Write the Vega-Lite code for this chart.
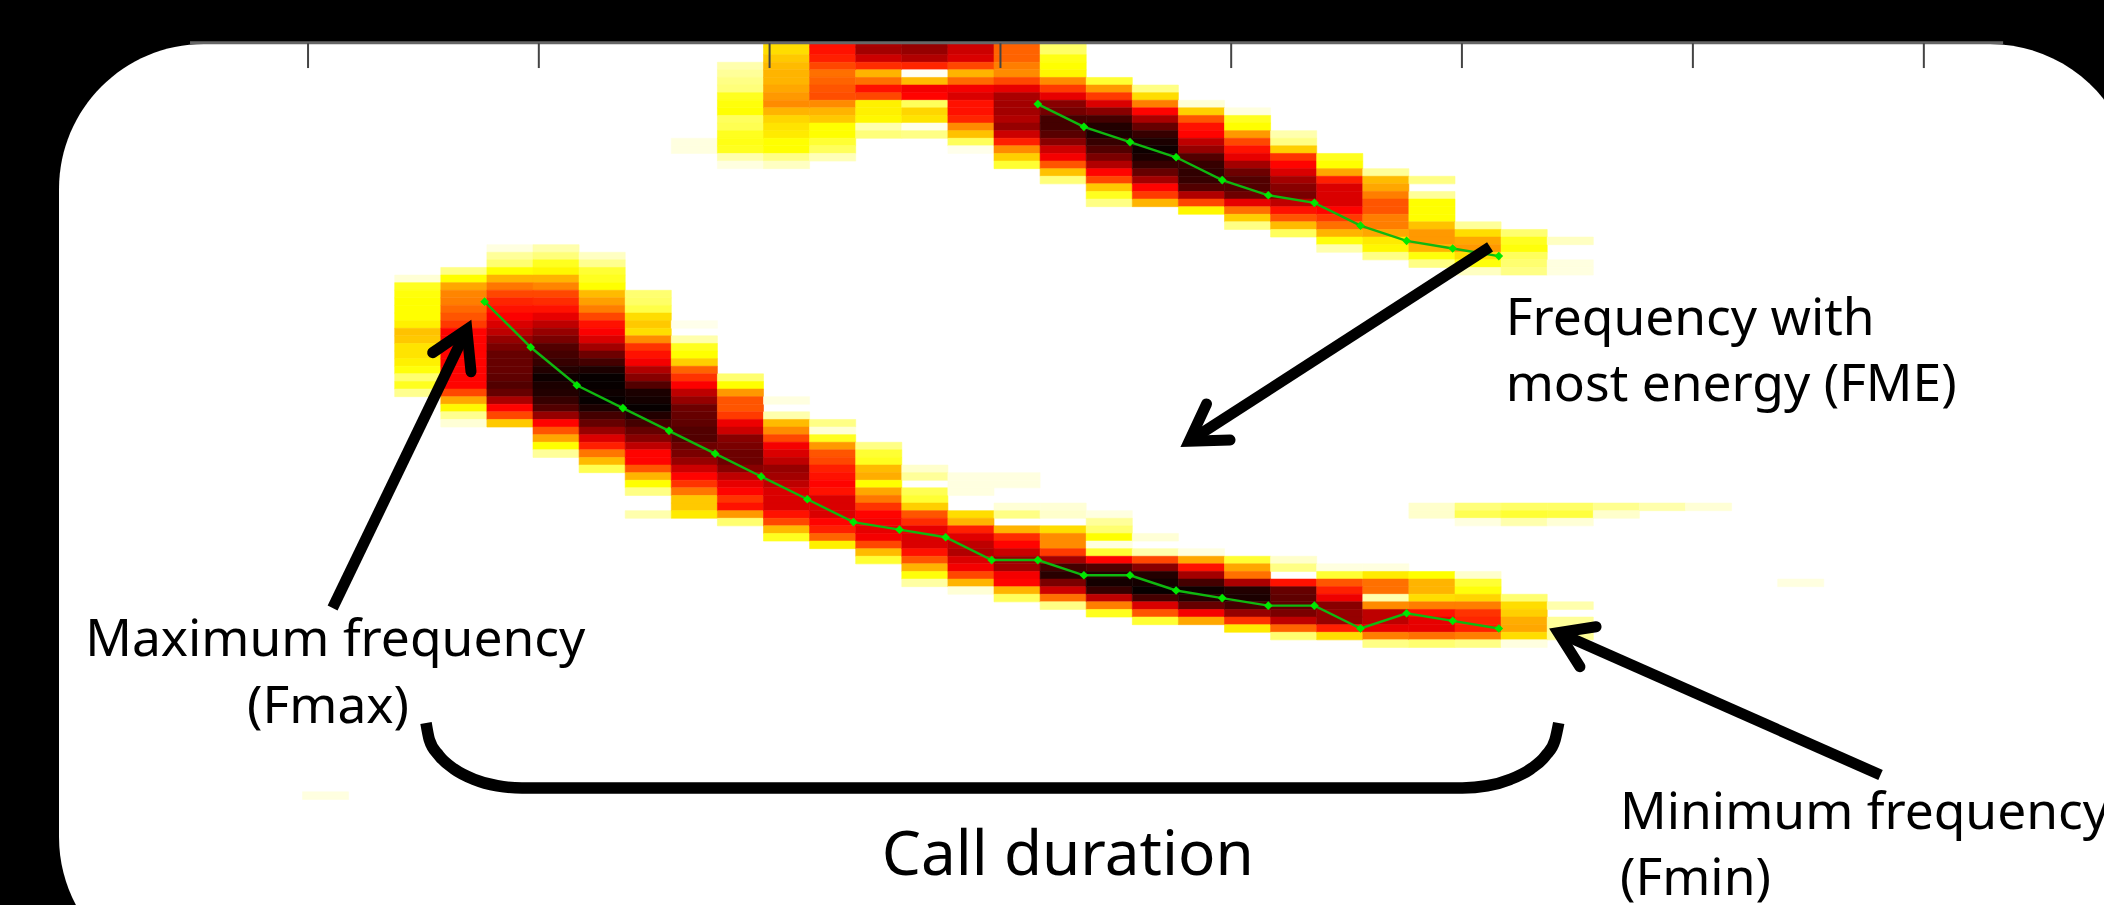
{"$schema":"https://vega.github.io/schema/vega-lite/v6.json","width":2104,"height":905,"autosize":{"type":"none"},"padding":0,"background":"#000000","view":{"stroke":null},
"datasets":{
"panel":[{"t":-7.782,"t2":37.25,"f":79.9,"f2":-43.52}],
"band":[{"t":-9.062,"t2":36.578,"f":85.693,"f2":80.17}],
"axisline":[{"t":-4.94,"t2":34.39,"f":80.07}],
"ticks":[{"t":-2.38,"f":80,"f2":76.74},{"t":2.626,"f":80,"f2":76.74},{"t":7.632,"f":80,"f2":76.74},{"t":12.64,"f":80,"f2":76.74},{"t":17.645,"f":80,"f2":76.74},{"t":22.65,"f":80,"f2":76.74},{"t":27.66,"f":80,"f2":76.74},{"t":32.67,"f":80,"f2":76.74}],
"fme":[{"c":"a","t":1.45,"f":46},{"c":"a","t":2.45,"f":40},{"c":"a","t":3.45,"f":35},{"c":"a","t":4.45,"f":32},{"c":"a","t":5.45,"f":29},{"c":"a","t":6.45,"f":26},{"c":"a","t":7.45,"f":23},{"c":"a","t":8.45,"f":20},{"c":"a","t":9.45,"f":17},{"c":"a","t":10.45,"f":16},{"c":"a","t":11.45,"f":15},{"c":"a","t":12.45,"f":12},{"c":"a","t":13.45,"f":12},{"c":"a","t":14.45,"f":10},{"c":"a","t":15.45,"f":10},{"c":"a","t":16.45,"f":8},{"c":"a","t":17.45,"f":7},{"c":"a","t":18.45,"f":6},{"c":"a","t":19.45,"f":6},{"c":"a","t":20.45,"f":3},{"c":"a","t":21.45,"f":5},{"c":"a","t":22.45,"f":4},{"c":"a","t":23.45,"f":3},
{"c":"b","t":13.45,"f":72},{"c":"b","t":14.45,"f":69},{"c":"b","t":15.45,"f":67},{"c":"b","t":16.45,"f":65},{"c":"b","t":17.45,"f":62},{"c":"b","t":18.45,"f":60},{"c":"b","t":19.45,"f":59},{"c":"b","t":20.45,"f":56},{"c":"b","t":21.45,"f":54},{"c":"b","t":22.45,"f":53},{"c":"b","t":23.45,"f":52}],
"shafts":[{"id":"max","t":-1.847,"f":5.693},{"id":"max","t":1.064,"f":42.33},{"id":"fme","t":23.26,"f":53.2},{"id":"fme","t":16.734,"f":27.64},{"id":"min","t":31.73,"f":-16.28},{"id":"min","t":24.74,"f":2.46}],
"heads":[{"id":"max","i":0,"t":0.324,"f":39.29},{"id":"max","i":1,"t":1.064,"f":42.33},{"id":"max","i":2,"t":1.155,"f":36.79},{"id":"fme","i":0,"t":17.11,"f":32.54},{"id":"fme","i":1,"t":16.734,"f":27.64},{"id":"fme","i":2,"t":17.62,"f":27.8},{"id":"min","i":0,"t":25.56,"f":3.23},{"id":"min","i":1,"t":24.74,"f":2.46},{"id":"min","i":2,"t":25.21,"f":-2.03}],
"bracket":[{"t":0.179,"f":-9.44},{"t":0.251,"f":-11.65},{"t":0.459,"f":-13.71},{"t":0.788,"f":-15.49},{"t":1.22,"f":-16.85},{"t":1.723,"f":-17.7},{"t":2.261,"f":-17.99},{"t":22.66,"f":-17.99},{"t":23.2,"f":-17.7},{"t":23.7,"f":-16.85},{"t":24.14,"f":-15.49},{"t":24.47,"f":-13.71},{"t":24.67,"f":-11.65},{"t":24.75,"f":-9.44}],
"labelsCenter":[{"label":"Maximum frequency","t":-1.79,"f":-0.58},{"label":"(Fmax)","t":-1.947,"f":-9.4}],
"labelsLeft":[{"label":"Frequency with","t":23.6,"f":41.55},{"label":"most energy (FME)","t":23.6,"f":32.92},{"label":"Minimum frequency","t":26.08,"f":-23.39},{"label":"(Fmin)","t":26.08,"f":-32.07}],
"labelCall":[{"label":"Call duration","t":14.1,"f":-29.44}],
"cells":[
{"t":-2,"f":-19,"v":3},{"t":30,"f":9,"v":3},
{"t":0,"f":49,"v":4},{"t":0,"f":48,"v":22},{"t":0,"f":47,"v":24},{"t":0,"f":46,"v":25},{"t":0,"f":45,"v":25},{"t":0,"f":44,"v":25},{"t":0,"f":43,"v":27},{"t":0,"f":42,"v":34},{"t":0,"f":41,"v":33},{"t":0,"f":40,"v":29},{"t":0,"f":39,"v":29},{"t":0,"f":38,"v":27},{"t":0,"f":37,"v":24},{"t":0,"f":36,"v":14},{"t":0,"f":35,"v":22},{"t":0,"f":34,"v":11},
{"t":1,"f":50,"v":12},{"t":1,"f":49,"v":25},{"t":1,"f":48,"v":38},{"t":1,"f":47,"v":43},{"t":1,"f":46,"v":44},{"t":1,"f":45,"v":47},{"t":1,"f":44,"v":50},{"t":1,"f":43,"v":54},{"t":1,"f":42,"v":62},{"t":1,"f":41,"v":62},{"t":1,"f":40,"v":62},{"t":1,"f":39,"v":62},{"t":1,"f":38,"v":62},{"t":1,"f":37,"v":62},{"t":1,"f":36,"v":62},{"t":1,"f":35,"v":62},{"t":1,"f":34,"v":52},{"t":1,"f":33,"v":38},{"t":1,"f":32,"v":26},{"t":1,"f":31,"v":11},{"t":1,"f":30,"v":4},
{"t":2,"f":53,"v":3},{"t":2,"f":52,"v":10},{"t":2,"f":51,"v":14},{"t":2,"f":50,"v":25},{"t":2,"f":49,"v":36},{"t":2,"f":48,"v":45},{"t":2,"f":47,"v":52},{"t":2,"f":46,"v":57},{"t":2,"f":45,"v":60},{"t":2,"f":44,"v":63},{"t":2,"f":43,"v":68},{"t":2,"f":42,"v":72},{"t":2,"f":41,"v":78},{"t":2,"f":40,"v":82},{"t":2,"f":39,"v":85},{"t":2,"f":38,"v":85},{"t":2,"f":37,"v":85},{"t":2,"f":36,"v":86},{"t":2,"f":35,"v":88},{"t":2,"f":34,"v":85},{"t":2,"f":33,"v":75},{"t":2,"f":32,"v":62},{"t":2,"f":31,"v":52},{"t":2,"f":30,"v":33},
{"t":3,"f":53,"v":8},{"t":3,"f":52,"v":13},{"t":3,"f":51,"v":22},{"t":3,"f":50,"v":26},{"t":3,"f":49,"v":36},{"t":3,"f":48,"v":43},{"t":3,"f":47,"v":52},{"t":3,"f":46,"v":56},{"t":3,"f":45,"v":60},{"t":3,"f":44,"v":66},{"t":3,"f":43,"v":72},{"t":3,"f":42,"v":78},{"t":3,"f":41,"v":82},{"t":3,"f":40,"v":88},{"t":3,"f":39,"v":90},{"t":3,"f":38,"v":92},{"t":3,"f":37,"v":95},{"t":3,"f":36,"v":98},{"t":3,"f":35,"v":96},{"t":3,"f":34,"v":95},{"t":3,"f":33,"v":92},{"t":3,"f":32,"v":88},{"t":3,"f":31,"v":78},{"t":3,"f":30,"v":62},{"t":3,"f":29,"v":50},{"t":3,"f":28,"v":38},{"t":3,"f":27,"v":25},{"t":3,"f":26,"v":10},
{"t":4,"f":52,"v":6},{"t":4,"f":51,"v":11},{"t":4,"f":50,"v":20},{"t":4,"f":49,"v":22},{"t":4,"f":48,"v":25},{"t":4,"f":47,"v":35},{"t":4,"f":46,"v":39},{"t":4,"f":45,"v":44},{"t":4,"f":44,"v":52},{"t":4,"f":43,"v":60},{"t":4,"f":42,"v":63},{"t":4,"f":41,"v":68},{"t":4,"f":40,"v":76},{"t":4,"f":39,"v":84},{"t":4,"f":38,"v":90},{"t":4,"f":37,"v":96},{"t":4,"f":36,"v":99},{"t":4,"f":35,"v":99},{"t":4,"f":34,"v":98},{"t":4,"f":33,"v":99},{"t":4,"f":32,"v":96},{"t":4,"f":31,"v":90},{"t":4,"f":30,"v":85},{"t":4,"f":29,"v":78},{"t":4,"f":28,"v":68},{"t":4,"f":27,"v":58},{"t":4,"f":26,"v":45},{"t":4,"f":25,"v":35},{"t":4,"f":24,"v":17},
{"t":5,"f":47,"v":14},{"t":5,"f":46,"v":15},{"t":5,"f":45,"v":18},{"t":5,"f":44,"v":30},{"t":5,"f":43,"v":33},{"t":5,"f":42,"v":30},{"t":5,"f":41,"v":42},{"t":5,"f":40,"v":55},{"t":5,"f":39,"v":60},{"t":5,"f":38,"v":64},{"t":5,"f":37,"v":74},{"t":5,"f":36,"v":80},{"t":5,"f":35,"v":88},{"t":5,"f":34,"v":96},{"t":5,"f":33,"v":97},{"t":5,"f":32,"v":99},{"t":5,"f":31,"v":95},{"t":5,"f":30,"v":90},{"t":5,"f":29,"v":85},{"t":5,"f":28,"v":80},{"t":5,"f":27,"v":72},{"t":5,"f":26,"v":62},{"t":5,"f":25,"v":62},{"t":5,"f":24,"v":50},{"t":5,"f":23,"v":36},{"t":5,"f":22,"v":25},{"t":5,"f":21,"v":12},{"t":5,"f":18,"v":8},
{"t":6,"f":43,"v":2},{"t":6,"f":41,"v":8},{"t":6,"f":40,"v":22},{"t":6,"f":39,"v":25},{"t":6,"f":38,"v":32},{"t":6,"f":37,"v":48},{"t":6,"f":36,"v":55},{"t":6,"f":35,"v":63},{"t":6,"f":34,"v":72},{"t":6,"f":33,"v":78},{"t":6,"f":32,"v":84},{"t":6,"f":31,"v":85},{"t":6,"f":30,"v":86},{"t":6,"f":29,"v":88},{"t":6,"f":28,"v":88},{"t":6,"f":27,"v":84},{"t":6,"f":26,"v":82},{"t":6,"f":25,"v":78},{"t":6,"f":24,"v":70},{"t":6,"f":23,"v":62},{"t":6,"f":22,"v":55},{"t":6,"f":21,"v":45},{"t":6,"f":20,"v":33},{"t":6,"f":19,"v":33},{"t":6,"f":18,"v":28},
{"t":7,"f":36,"v":14},{"t":7,"f":35,"v":25},{"t":7,"f":34,"v":40},{"t":7,"f":33,"v":50},{"t":7,"f":32,"v":50},{"t":7,"f":31,"v":54},{"t":7,"f":30,"v":65},{"t":7,"f":29,"v":70},{"t":7,"f":28,"v":80},{"t":7,"f":27,"v":82},{"t":7,"f":26,"v":84},{"t":7,"f":25,"v":84},{"t":7,"f":24,"v":80},{"t":7,"f":23,"v":72},{"t":7,"f":22,"v":66},{"t":7,"f":21,"v":62},{"t":7,"f":20,"v":55},{"t":7,"f":19,"v":60},{"t":7,"f":18,"v":40},{"t":7,"f":17,"v":14},
{"t":8,"f":33,"v":3},{"t":8,"f":31,"v":8},{"t":8,"f":30,"v":35},{"t":8,"f":29,"v":42},{"t":8,"f":28,"v":52},{"t":8,"f":27,"v":64},{"t":8,"f":26,"v":68},{"t":8,"f":25,"v":72},{"t":8,"f":24,"v":78},{"t":8,"f":23,"v":76},{"t":8,"f":22,"v":72},{"t":8,"f":21,"v":68},{"t":8,"f":20,"v":68},{"t":8,"f":19,"v":68},{"t":8,"f":18,"v":60},{"t":8,"f":17,"v":52},{"t":8,"f":16,"v":35},{"t":8,"f":15,"v":22},
{"t":9,"f":30,"v":12},{"t":9,"f":29,"v":4},{"t":9,"f":28,"v":22},{"t":9,"f":27,"v":40},{"t":9,"f":26,"v":50},{"t":9,"f":25,"v":52},{"t":9,"f":24,"v":58},{"t":9,"f":23,"v":60},{"t":9,"f":22,"v":62},{"t":9,"f":21,"v":60},{"t":9,"f":20,"v":68},{"t":9,"f":19,"v":68},{"t":9,"f":18,"v":68},{"t":9,"f":17,"v":62},{"t":9,"f":16,"v":58},{"t":9,"f":15,"v":48},{"t":9,"f":14,"v":27},
{"t":10,"f":27,"v":12},{"t":10,"f":26,"v":20},{"t":10,"f":25,"v":22},{"t":10,"f":24,"v":35},{"t":10,"f":23,"v":37},{"t":10,"f":22,"v":25},{"t":10,"f":21,"v":38},{"t":10,"f":20,"v":45},{"t":10,"f":19,"v":55},{"t":10,"f":18,"v":62},{"t":10,"f":17,"v":64},{"t":10,"f":16,"v":66},{"t":10,"f":15,"v":64},{"t":10,"f":14,"v":52},{"t":10,"f":13,"v":35},{"t":10,"f":12,"v":20},
{"t":11,"f":24,"v":5},{"t":11,"f":23,"v":10},{"t":11,"f":21,"v":17},{"t":11,"f":20,"v":20},{"t":11,"f":19,"v":32},{"t":11,"f":18,"v":50},{"t":11,"f":17,"v":56},{"t":11,"f":16,"v":66},{"t":11,"f":15,"v":68},{"t":11,"f":14,"v":68},{"t":11,"f":13,"v":60},{"t":11,"f":12,"v":50},{"t":11,"f":11,"v":36},{"t":11,"f":10,"v":24},{"t":11,"f":9,"v":9},
{"t":12,"f":23,"v":3},{"t":12,"f":22,"v":3},{"t":12,"f":21,"v":3},{"t":12,"f":18,"v":30},{"t":12,"f":17,"v":36},{"t":12,"f":16,"v":58},{"t":12,"f":15,"v":67},{"t":12,"f":14,"v":72},{"t":12,"f":13,"v":74},{"t":12,"f":12,"v":68},{"t":12,"f":11,"v":64},{"t":12,"f":10,"v":52},{"t":12,"f":9,"v":36},{"t":12,"f":8,"v":4},
{"t":13,"f":23,"v":3},{"t":13,"f":22,"v":3},{"t":13,"f":19,"v":4},{"t":13,"f":18,"v":12},{"t":13,"f":16,"v":36},{"t":13,"f":15,"v":56},{"t":13,"f":14,"v":62},{"t":13,"f":13,"v":70},{"t":13,"f":12,"v":78},{"t":13,"f":11,"v":76},{"t":13,"f":10,"v":64},{"t":13,"f":9,"v":62},{"t":13,"f":8,"v":36},{"t":13,"f":7,"v":16},
{"t":14,"f":19,"v":4},{"t":14,"f":18,"v":5},{"t":14,"f":16,"v":30},{"t":14,"f":15,"v":42},{"t":14,"f":14,"v":42},{"t":14,"f":13,"v":54},{"t":14,"f":12,"v":76},{"t":14,"f":11,"v":90},{"t":14,"f":10,"v":94},{"t":14,"f":9,"v":82},{"t":14,"f":8,"v":70},{"t":14,"f":7,"v":46},{"t":14,"f":6,"v":12},
{"t":15,"f":18,"v":3},{"t":15,"f":17,"v":10},{"t":15,"f":16,"v":14},{"t":15,"f":15,"v":25},{"t":15,"f":14,"v":3},{"t":15,"f":13,"v":20},{"t":15,"f":12,"v":62},{"t":15,"f":11,"v":88},{"t":15,"f":10,"v":95},{"t":15,"f":9,"v":97},{"t":15,"f":8,"v":92},{"t":15,"f":7,"v":72},{"t":15,"f":6,"v":44},{"t":15,"f":5,"v":22},
{"t":16,"f":15,"v":4},{"t":16,"f":13,"v":8},{"t":16,"f":12,"v":52},{"t":16,"f":11,"v":80},{"t":16,"f":10,"v":95},{"t":16,"f":9,"v":97},{"t":16,"f":8,"v":99},{"t":16,"f":7,"v":90},{"t":16,"f":6,"v":68},{"t":16,"f":5,"v":50},{"t":16,"f":4,"v":20},
{"t":17,"f":13,"v":3},{"t":17,"f":12,"v":38},{"t":17,"f":11,"v":60},{"t":17,"f":10,"v":76},{"t":17,"f":9,"v":90},{"t":17,"f":8,"v":98},{"t":17,"f":7,"v":95},{"t":17,"f":6,"v":85},{"t":17,"f":5,"v":64},{"t":17,"f":4,"v":38},
{"t":18,"f":12,"v":20},{"t":18,"f":11,"v":38},{"t":18,"f":10,"v":46},{"t":18,"f":9,"v":75},{"t":18,"f":8,"v":95},{"t":18,"f":7,"v":96},{"t":18,"f":6,"v":90},{"t":18,"f":5,"v":78},{"t":18,"f":4,"v":55},{"t":18,"f":3,"v":28},
{"t":19,"f":12,"v":5},{"t":19,"f":11,"v":12},{"t":19,"f":9,"v":60},{"t":19,"f":8,"v":85},{"t":19,"f":7,"v":86},{"t":19,"f":6,"v":86},{"t":19,"f":5,"v":82},{"t":19,"f":4,"v":72},{"t":19,"f":3,"v":48},{"t":19,"f":2,"v":14},
{"t":20,"f":11,"v":3},{"t":20,"f":10,"v":20},{"t":20,"f":9,"v":50},{"t":20,"f":8,"v":58},{"t":20,"f":7,"v":65},{"t":20,"f":6,"v":80},{"t":20,"f":5,"v":78},{"t":20,"f":4,"v":78},{"t":20,"f":3,"v":58},{"t":20,"f":2,"v":30},
{"t":21,"f":11,"v":3},{"t":21,"f":10,"v":28},{"t":21,"f":9,"v":46},{"t":21,"f":8,"v":46},{"t":21,"f":7,"v":8},{"t":21,"f":6,"v":42},{"t":21,"f":5,"v":72},{"t":21,"f":4,"v":72},{"t":21,"f":3,"v":66},{"t":21,"f":2,"v":44},{"t":21,"f":1,"v":12},
{"t":22,"f":19,"v":5},{"t":22,"f":18,"v":5},{"t":22,"f":10,"v":25},{"t":22,"f":9,"v":36},{"t":22,"f":8,"v":36},{"t":22,"f":7,"v":30},{"t":22,"f":6,"v":44},{"t":22,"f":5,"v":60},{"t":22,"f":4,"v":66},{"t":22,"f":3,"v":66},{"t":22,"f":2,"v":46},{"t":22,"f":1,"v":14},
{"t":23,"f":19,"v":13},{"t":23,"f":18,"v":17},{"t":23,"f":17,"v":3},{"t":23,"f":10,"v":5},{"t":23,"f":9,"v":20},{"t":23,"f":8,"v":24},{"t":23,"f":7,"v":31},{"t":23,"f":6,"v":44},{"t":23,"f":5,"v":55},{"t":23,"f":4,"v":57},{"t":23,"f":3,"v":58},{"t":23,"f":2,"v":44},{"t":23,"f":1,"v":12},
{"t":24,"f":19,"v":15},{"t":24,"f":18,"v":20},{"t":24,"f":17,"v":8},{"t":24,"f":7,"v":14},{"t":24,"f":6,"v":30},{"t":24,"f":5,"v":32},{"t":24,"f":4,"v":37},{"t":24,"f":3,"v":38},{"t":24,"f":2,"v":30},{"t":24,"f":1,"v":3},
{"t":25,"f":19,"v":15},{"t":25,"f":18,"v":19},{"t":25,"f":17,"v":4},{"t":25,"f":6,"v":8},{"t":25,"f":4,"v":10},{"t":25,"f":3,"v":10},{"t":25,"f":2,"v":10},
{"t":26,"f":19,"v":11},{"t":26,"f":18,"v":5},{"t":27,"f":19,"v":8},{"t":28,"f":19,"v":4},
{"t":6,"f":67,"v":3},{"t":6,"f":66,"v":3},
{"t":7,"f":77,"v":8},{"t":7,"f":76,"v":10},{"t":7,"f":75,"v":12},{"t":7,"f":74,"v":13},{"t":7,"f":73,"v":22},{"t":7,"f":72,"v":24},{"t":7,"f":71,"v":25},{"t":7,"f":70,"v":16},{"t":7,"f":69,"v":17},{"t":7,"f":68,"v":22},{"t":7,"f":67,"v":23},{"t":7,"f":66,"v":22},{"t":7,"f":65,"v":8},{"t":7,"f":64,"v":3},
{"t":8,"f":80,"v":30},{"t":8,"f":79,"v":30},{"t":8,"f":78,"v":33},{"t":8,"f":77,"v":35},{"t":8,"f":76,"v":36},{"t":8,"f":75,"v":36},{"t":8,"f":74,"v":38},{"t":8,"f":73,"v":40},{"t":8,"f":72,"v":42},{"t":8,"f":71,"v":36},{"t":8,"f":70,"v":31},{"t":8,"f":69,"v":29},{"t":8,"f":68,"v":28},{"t":8,"f":67,"v":25},{"t":8,"f":66,"v":25},{"t":8,"f":65,"v":12},{"t":8,"f":64,"v":6},
{"t":9,"f":80,"v":60},{"t":9,"f":79,"v":60},{"t":9,"f":78,"v":58},{"t":9,"f":77,"v":52},{"t":9,"f":76,"v":46},{"t":9,"f":75,"v":48},{"t":9,"f":74,"v":50},{"t":9,"f":73,"v":51},{"t":9,"f":72,"v":42},{"t":9,"f":71,"v":36},{"t":9,"f":70,"v":33},{"t":9,"f":69,"v":25},{"t":9,"f":68,"v":25},{"t":9,"f":67,"v":20},{"t":9,"f":66,"v":16},{"t":9,"f":65,"v":7},
{"t":10,"f":80,"v":75},{"t":10,"f":79,"v":76},{"t":10,"f":78,"v":70},{"t":10,"f":77,"v":56},{"t":10,"f":76,"v":36},{"t":10,"f":75,"v":46},{"t":10,"f":74,"v":60},{"t":10,"f":73,"v":52},{"t":10,"f":72,"v":27},{"t":10,"f":71,"v":27},{"t":10,"f":70,"v":26},{"t":10,"f":69,"v":8},{"t":10,"f":68,"v":13},
{"t":11,"f":80,"v":78},{"t":11,"f":79,"v":78},{"t":11,"f":78,"v":74},{"t":11,"f":77,"v":57},{"t":11,"f":76,"v":1},{"t":11,"f":75,"v":35},{"t":11,"f":74,"v":64},{"t":11,"f":73,"v":62},{"t":11,"f":72,"v":16},{"t":11,"f":71,"v":31},{"t":11,"f":70,"v":29},{"t":11,"f":69,"v":2},{"t":11,"f":68,"v":12},
{"t":12,"f":80,"v":70},{"t":12,"f":79,"v":70},{"t":12,"f":78,"v":68},{"t":12,"f":77,"v":52},{"t":12,"f":76,"v":36},{"t":12,"f":75,"v":47},{"t":12,"f":74,"v":64},{"t":12,"f":73,"v":68},{"t":12,"f":72,"v":60},{"t":12,"f":71,"v":60},{"t":12,"f":70,"v":57},{"t":12,"f":69,"v":42},{"t":12,"f":68,"v":34},{"t":12,"f":67,"v":16},{"t":12,"f":66,"v":2},
{"t":13,"f":80,"v":48},{"t":13,"f":79,"v":48},{"t":13,"f":78,"v":48},{"t":13,"f":77,"v":44},{"t":13,"f":76,"v":42},{"t":13,"f":75,"v":52},{"t":13,"f":74,"v":66},{"t":13,"f":73,"v":75},{"t":13,"f":72,"v":76},{"t":13,"f":71,"v":76},{"t":13,"f":70,"v":74},{"t":13,"f":69,"v":78},{"t":13,"f":68,"v":70},{"t":13,"f":67,"v":58},{"t":13,"f":66,"v":42},{"t":13,"f":65,"v":32},{"t":13,"f":64,"v":20},
{"t":14,"f":80,"v":15},{"t":14,"f":79,"v":15},{"t":14,"f":78,"v":23},{"t":14,"f":77,"v":25},{"t":14,"f":76,"v":26},{"t":14,"f":75,"v":42},{"t":14,"f":74,"v":54},{"t":14,"f":73,"v":66},{"t":14,"f":72,"v":80},{"t":14,"f":71,"v":83},{"t":14,"f":70,"v":90},{"t":14,"f":69,"v":90},{"t":14,"f":68,"v":87},{"t":14,"f":67,"v":80},{"t":14,"f":66,"v":70},{"t":14,"f":65,"v":64},{"t":14,"f":64,"v":50},{"t":14,"f":63,"v":34},{"t":14,"f":62,"v":13},
{"t":15,"f":75,"v":20},{"t":15,"f":74,"v":40},{"t":15,"f":73,"v":54},{"t":15,"f":72,"v":68},{"t":15,"f":71,"v":80},{"t":15,"f":70,"v":90},{"t":15,"f":69,"v":95},{"t":15,"f":68,"v":96},{"t":15,"f":67,"v":92},{"t":15,"f":66,"v":88},{"t":15,"f":65,"v":82},{"t":15,"f":64,"v":74},{"t":15,"f":63,"v":62},{"t":15,"f":62,"v":52},{"t":15,"f":61,"v":33},{"t":15,"f":60,"v":22},{"t":15,"f":59,"v":12},
{"t":16,"f":74,"v":12},{"t":16,"f":73,"v":30},{"t":16,"f":72,"v":44},{"t":16,"f":71,"v":62},{"t":16,"f":70,"v":75},{"t":16,"f":69,"v":85},{"t":16,"f":68,"v":92},{"t":16,"f":67,"v":96},{"t":16,"f":66,"v":98},{"t":16,"f":65,"v":96},{"t":16,"f":64,"v":92},{"t":16,"f":63,"v":85},{"t":16,"f":62,"v":76},{"t":16,"f":61,"v":62},{"t":16,"f":60,"v":54},{"t":16,"f":59,"v":36},
{"t":17,"f":72,"v":4},{"t":17,"f":71,"v":32},{"t":17,"f":70,"v":50},{"t":17,"f":69,"v":60},{"t":17,"f":68,"v":62},{"t":17,"f":67,"v":72},{"t":17,"f":66,"v":78},{"t":17,"f":65,"v":88},{"t":17,"f":64,"v":92},{"t":17,"f":63,"v":93},{"t":17,"f":62,"v":92},{"t":17,"f":61,"v":88},{"t":17,"f":60,"v":74},{"t":17,"f":59,"v":52},{"t":17,"f":58,"v":26},
{"t":18,"f":71,"v":3},{"t":18,"f":70,"v":22},{"t":18,"f":69,"v":25},{"t":18,"f":68,"v":40},{"t":18,"f":67,"v":52},{"t":18,"f":66,"v":60},{"t":18,"f":65,"v":66},{"t":18,"f":64,"v":76},{"t":18,"f":63,"v":84},{"t":18,"f":62,"v":88},{"t":18,"f":61,"v":88},{"t":18,"f":60,"v":84},{"t":18,"f":59,"v":66},{"t":18,"f":58,"v":46},{"t":18,"f":57,"v":32},{"t":18,"f":56,"v":12},
{"t":19,"f":68,"v":8},{"t":19,"f":67,"v":12},{"t":19,"f":66,"v":32},{"t":19,"f":65,"v":55},{"t":19,"f":64,"v":62},{"t":19,"f":63,"v":68},{"t":19,"f":62,"v":76},{"t":19,"f":61,"v":80},{"t":19,"f":60,"v":82},{"t":19,"f":59,"v":72},{"t":19,"f":58,"v":60},{"t":19,"f":57,"v":50},{"t":19,"f":56,"v":35},{"t":19,"f":55,"v":16},
{"t":20,"f":65,"v":22},{"t":20,"f":64,"v":25},{"t":20,"f":63,"v":38},{"t":20,"f":62,"v":58},{"t":20,"f":61,"v":68},{"t":20,"f":60,"v":68},{"t":20,"f":59,"v":68},{"t":20,"f":58,"v":62},{"t":20,"f":57,"v":54},{"t":20,"f":56,"v":46},{"t":20,"f":55,"v":36},{"t":20,"f":54,"v":24},{"t":20,"f":53,"v":8},
{"t":21,"f":63,"v":10},{"t":21,"f":62,"v":35},{"t":21,"f":61,"v":38},{"t":21,"f":60,"v":44},{"t":21,"f":59,"v":50},{"t":21,"f":58,"v":50},{"t":21,"f":57,"v":44},{"t":21,"f":56,"v":44},{"t":21,"f":55,"v":38},{"t":21,"f":54,"v":28},{"t":21,"f":53,"v":26},{"t":21,"f":52,"v":12},
{"t":22,"f":62,"v":12},{"t":22,"f":60,"v":10},{"t":22,"f":59,"v":25},{"t":22,"f":58,"v":25},{"t":22,"f":57,"v":25},{"t":22,"f":56,"v":34},{"t":22,"f":55,"v":40},{"t":22,"f":54,"v":40},{"t":22,"f":53,"v":36},{"t":22,"f":52,"v":24},{"t":22,"f":51,"v":12},
{"t":23,"f":56,"v":10},{"t":23,"f":55,"v":30},{"t":23,"f":54,"v":38},{"t":23,"f":53,"v":40},{"t":23,"f":52,"v":30},{"t":23,"f":51,"v":24},{"t":23,"f":50,"v":6},
{"t":24,"f":55,"v":14},{"t":24,"f":54,"v":22},{"t":24,"f":53,"v":24},{"t":24,"f":52,"v":16},{"t":24,"f":51,"v":14},{"t":24,"f":50,"v":12},
{"t":25,"f":54,"v":6},{"t":25,"f":51,"v":3},{"t":25,"f":50,"v":3}
]},
"encoding":{"x":{"field":"t","type":"quantitative","axis":null,"scale":{"domain":[-9.062,36.578],"nice":false,"zero":false}},"y":{"field":"f","type":"quantitative","axis":null,"scale":{"domain":[-33.386,85.693],"nice":false,"zero":false}}},
"layer":[
{"data":{"name":"panel"},"mark":{"type":"rect","fill":"#ffffff","cornerRadius":145},"encoding":{"x2":{"field":"t2"},"y2":{"field":"f2"}}},
{"data":{"name":"cells"},"mark":{"type":"rect","width":46.1,"height":7.6,"strokeWidth":0.6},"encoding":{"fill":{"field":"v","type":"quantitative","legend":null,"scale":{"domain":[0,25,62.5,100],"range":["#ffffff","#ffff00","#ff0000","#000000"],"interpolate":"rgb"}},"stroke":{"field":"v","type":"quantitative","legend":null,"scale":{"domain":[0,25,62.5,100],"range":["#ffffff","#ffff00","#ff0000","#000000"],"interpolate":"rgb"}}}},
{"data":{"name":"band"},"mark":{"type":"rect","fill":"#000000"},"encoding":{"x2":{"field":"t2"},"y2":{"field":"f2"}}},
{"data":{"name":"axisline"},"mark":{"type":"rule","stroke":"#666666","strokeWidth":3},"encoding":{"x2":{"field":"t2"}}},
{"data":{"name":"ticks"},"mark":{"type":"rule","stroke":"#444444","strokeWidth":2},"encoding":{"y2":{"field":"f2"}}},
{"data":{"name":"fme"},"mark":{"type":"line","stroke":"#10b810","strokeWidth":2.4},"encoding":{"detail":{"field":"c"}}},
{"data":{"name":"fme"},"mark":{"type":"point","shape":"diamond","filled":true,"fill":"#00e800","opacity":1,"size":75},"encoding":{}},
{"data":{"name":"shafts"},"mark":{"type":"line","stroke":"#000000","strokeWidth":11,"strokeCap":"butt"},"encoding":{"detail":{"field":"id"},"order":{"field":"id"}}},
{"data":{"name":"heads"},"mark":{"type":"line","stroke":"#000000","strokeWidth":11,"strokeCap":"round","strokeJoin":"miter"},"encoding":{"detail":{"field":"id"},"order":{"field":"i"}}},
{"data":{"name":"bracket"},"mark":{"type":"line","stroke":"#000000","strokeWidth":11.5,"strokeCap":"butt","strokeJoin":"round","interpolate":"monotone"},"encoding":{}},
{"data":{"name":"labelsCenter"},"mark":{"type":"text","font":"Noto Sans","fontSize":51.5,"align":"center","baseline":"alphabetic","fill":"#000000"},"encoding":{"text":{"field":"label"}}},
{"data":{"name":"labelsLeft"},"mark":{"type":"text","font":"Noto Sans","fontSize":51.5,"align":"left","baseline":"alphabetic","fill":"#000000"},"encoding":{"text":{"field":"label"}}},
{"data":{"name":"labelCall"},"mark":{"type":"text","font":"Noto Sans","fontSize":62,"align":"center","baseline":"alphabetic","fill":"#000000"},"encoding":{"text":{"field":"label"}}}
]}
